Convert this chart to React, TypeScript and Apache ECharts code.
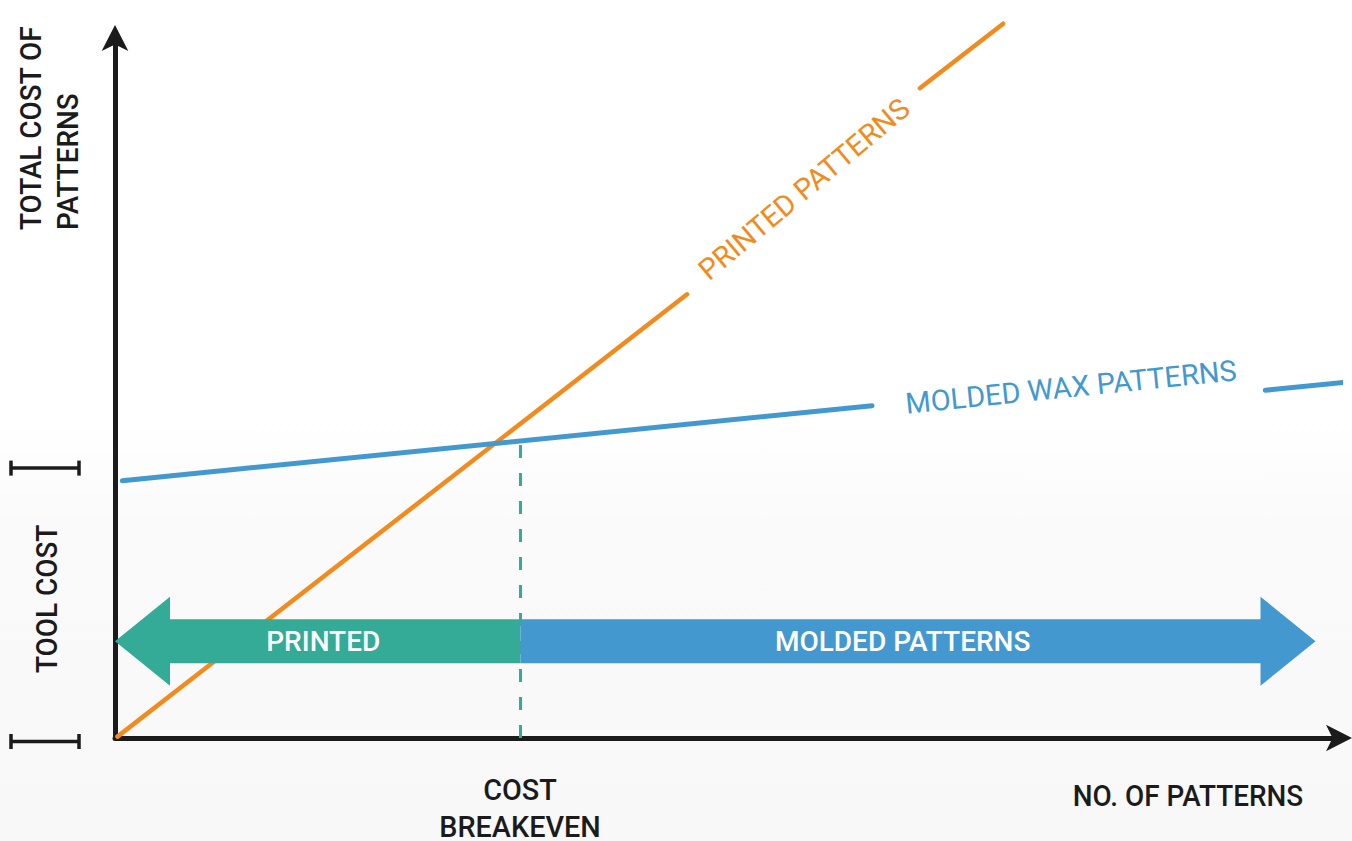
import React, { useEffect, useRef } from "react";
import * as echarts from "echarts";

// Conceptual cost curves (axis units 0..100)
const printedSegA = [[0.2, 0.2], [46.7, 63.3]];
const printedSegB = [[65.7, 92.7], [72.5, 101.9]];
const moldedSegA = [[0.6, 36.7], [61.8, 47.4]];
const moldedSegB = [[93.9, 49.6], [100.7, 50.8]];
const breakevenX = 33.1;
const breakevenLine = [[breakevenX, 0], [breakevenX, 42.4]];
// Region arrows: [from, to, y, labelX]
const arrowFrom = [33.1, 33.1];
const arrowTo = [0, 98.0];
const arrowY = [13.8, 13.8];
const arrowLabelX = [17.0, 64.3];
const arrowLabels = ["PRINTED", "MOLDED PATTERNS"];
const arrowColors = ["#33ab96", "#4399cf"];
// Tool cost bracket levels
const toolCostBounds = [38.5, -0.5];

const ORANGE = "#f28b1e";
const BLUE = "#4399cf";
const TEAL = "#33ab96";
const DARK = "#1b1b1b";
const FONT = "Roboto";

export default function App() {
  const ref = useRef<HTMLDivElement>(null);
  useEffect(() => {
    if (!ref.current) return;
    const chart = echarts.init(ref.current, null, { renderer: "svg" });
    const HEAD_LEN = 55;
    const BODY = 22;
    const HEAD = 44.5;
    const lineSeries = (data: number[][], color: string, w: number) => ({
      type: "line",
      data,
      symbol: "none",
      clip: false,
      z: 3,
      lineStyle: { color, width: w, cap: "round" },
      silent: true,
    });
    const axisLine = {
      show: true,
      symbol: ["none", "arrow"],
      symbolSize: [20, 26],
      symbolOffset: [0, 12],
      lineStyle: { color: DARK, width: 5 },
    };
    const darkText = (text: string, x: number, y: number, extra: any = {}) => ({
      type: "text",
      x,
      y,
      scaleX: 0.93,
      ...extra,
      style: {
        text,
        fill: DARK,
        fontSize: 30,
        fontWeight: 500,
        fontFamily: FONT,
        lineHeight: 37,
        align: "center",
        verticalAlign: "middle",
        ...(extra.style || {}),
      },
    });
    const option: any = {
      animation: false,
      backgroundColor: "#ffffff",
      grid: { left: 115, right: 12, top: 37, bottom: 103 },
      xAxis: {
        type: "value",
        min: 0,
        max: 100,
        axisLine,
        axisTick: { show: false },
        axisLabel: { show: false },
        splitLine: { show: false },
      },
      yAxis: {
        type: "value",
        min: 0,
        max: 100,
        axisLine,
        axisTick: { show: false },
        axisLabel: { show: false },
        splitLine: { show: false },
      },
      graphic: [
        {
          type: "rect",
          z: -10,
          silent: true,
          shape: { x: 0, y: 420, width: 1352, height: 421 },
          style: {
            fill: new echarts.graphic.LinearGradient(0, 0, 0, 1, [
              { offset: 0, color: "#ffffff" },
              { offset: 0.25, color: "#fafafa" },
              { offset: 1, color: "#f8f8f8" },
            ]),
          },
        },
        darkText("TOTAL COST OF\nPATTERNS", 49.5, 230, {
          rotation: Math.PI / 2,
          style: { align: "left" },
        }),
        darkText("TOOL COST", 47, 673, {
          rotation: Math.PI / 2,
          style: { align: "left" },
        }),
        darkText("NO. OF PATTERNS", 1188, 796),
        darkText("COST\nBREAKEVEN", 520, 808, { scaleX: 0.96 }),
        {
          type: "text",
          x: 804,
          y: 189,
          rotation: 0.696,
          style: {
            text: "PRINTED PATTERNS",
            fill: ORANGE,
            fontSize: 29,
            fontWeight: 400,
            fontFamily: FONT,
            align: "center",
            verticalAlign: "middle",
          },
        },
        {
          type: "text",
          x: 1071,
          y: 387,
          rotation: 0.101,
          style: {
            text: "MOLDED WAX PATTERNS",
            fill: BLUE,
            fontSize: 29,
            fontWeight: 400,
            fontFamily: FONT,
            align: "center",
            verticalAlign: "middle",
          },
        },
      ],
      series: [
        lineSeries(printedSegA, ORANGE, 4.5),
        lineSeries(printedSegB, ORANGE, 4.5),
        lineSeries(moldedSegA, BLUE, 5),
        lineSeries(moldedSegB, BLUE, 5),
        {
          type: "line",
          data: breakevenLine,
          symbol: "none",
          z: 2,
          silent: true,
          lineStyle: { color: TEAL, width: 3, type: [13, 15] },
        },
        {
          type: "custom",
          z: 5,
          silent: true,
          data: arrowFrom.map((f, i) => [f, arrowTo[i], arrowY[i], arrowLabelX[i]]),
          renderItem: (params: any, api: any) => {
            const i = params.dataIndex;
            const from = api.value(0);
            const to = api.value(1);
            const y = api.value(2);
            const lx = api.value(3);
            const p0 = api.coord([from, y]);
            const p1 = api.coord([to, y]);
            const dir = p1[0] > p0[0] ? 1 : -1;
            const hb = p1[0] - dir * HEAD_LEN;
            const cy = p0[1];
            return {
              type: "group",
              children: [
                {
                  type: "polygon",
                  shape: {
                    points: [
                      [p0[0], cy - BODY],
                      [hb, cy - BODY],
                      [hb, cy - HEAD],
                      [p1[0], cy],
                      [hb, cy + HEAD],
                      [hb, cy + BODY],
                      [p0[0], cy + BODY],
                    ],
                  },
                  style: { fill: arrowColors[i] },
                },
                {
                  type: "text",
                  x: api.coord([lx, y])[0],
                  y: cy,
                  style: {
                    text: arrowLabels[i],
                    fill: "#ffffff",
                    fontSize: 28,
                    fontWeight: 500,
                    fontFamily: FONT,
                    align: "center",
                    verticalAlign: "middle",
                  },
                },
              ],
            };
          },
        },
        {
          type: "custom",
          z: 4,
          silent: true,
          data: toolCostBounds.map((v) => [0, v]),
          renderItem: (params: any, api: any) => {
            const p = api.coord([api.value(0), api.value(1)]);
            const x1 = p[0] - 104;
            const x2 = p[0] - 36;
            const y = p[1];
            const st = { stroke: DARK, lineWidth: 3.5 };
            return {
              type: "group",
              children: [
                { type: "line", shape: { x1, y1: y, x2, y2: y }, style: st },
                { type: "line", shape: { x1, y1: y - 7.5, x2: x1, y2: y + 7.5 }, style: st },
                { type: "line", shape: { x1: x2, y1: y - 7.5, x2, y2: y + 7.5 }, style: st },
              ],
            };
          },
        },
      ],
    };
    chart.setOption(option);
    return () => chart.dispose();
  }, []);
  return (
    <div
      ref={ref}
      style={{ position: "absolute", left: 0, top: 0, width: 1352, height: 841, background: "#fff" }}
    />
  );
}
